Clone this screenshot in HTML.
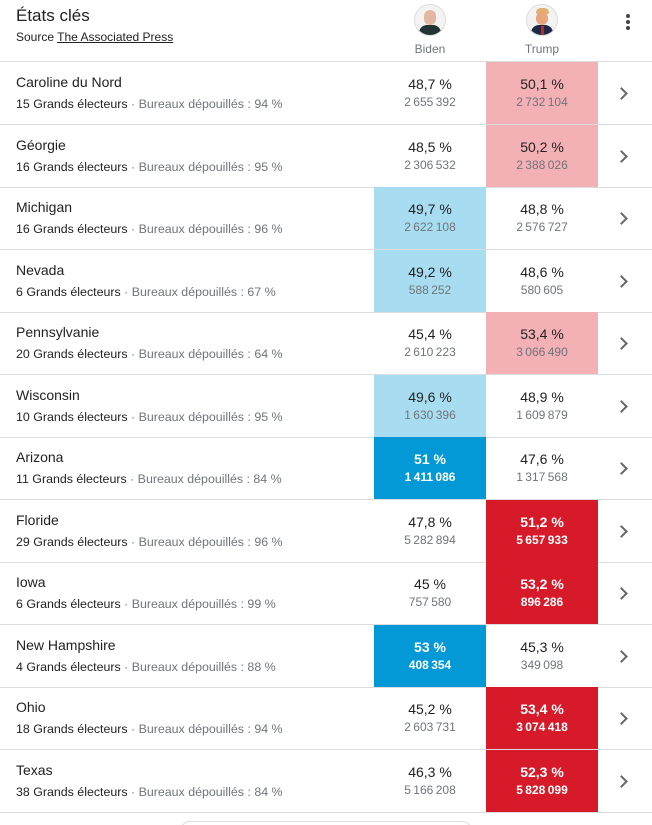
<!DOCTYPE html>
<html><head><meta charset="utf-8"><style>
html,body{margin:0;width:652px;height:825px;overflow:hidden}
body{background:#fff;font-family:"Liberation Sans",Arial,sans-serif;color:#222;position:relative}
.hdr{position:absolute;left:0;top:0;width:652px;height:61px;border-bottom:1px solid #dadce0}
.title{position:absolute;left:16px;top:6px;font-size:17px;color:#222}
.src{position:absolute;left:16px;top:30px;font-size:12px;color:#222}
.src u{text-decoration:underline}
.cand{position:absolute;top:4px;width:112px;text-align:center;font-size:12px;color:#70757a}
.av{width:30px;height:30px;border-radius:50%;margin:0 auto 6px;border:1px solid #ddd;overflow:hidden;background:#f3f3f3;position:relative}
.more{position:absolute;left:626px;top:14px;width:4px}
.more i{display:block;width:4px;height:4px;border-radius:2px;background:#444;margin-bottom:2px}
.row{position:absolute;left:0;width:652px;height:62px;border-bottom:1px solid #dadce0}
.name{position:absolute;left:16px;top:12px;font-size:14px;color:#222}
.sub{position:absolute;left:16px;top:35px;font-size:12.4px;color:#222}
.sub span{color:#70757a}
.cell{position:absolute;top:0;width:112px;height:62px;text-align:center}
.pct{font-size:14px;margin-top:14px;color:#222}
.vot{font-size:12px;color:#70757a;margin-top:3px}
.strong .pct,.strong .vot{color:#fff;font-weight:bold}
.chev{position:absolute;left:617px;top:27px;width:7px;height:7px;border-right:2px solid #666;border-top:2px solid #666;transform:rotate(45deg)}
.btn{position:absolute;left:180px;top:821px;width:290px;height:20px;border:1px solid #dadce0;border-radius:10px}
</style></head><body>
<div class="hdr">
<div class="title">États clés</div>
<div class="src">Source <u>The Associated Press</u></div>
<div class="cand" style="left:374px"><div class="av"><div style="position:absolute;left:9px;top:5px;width:12px;height:15px;border-radius:6px;background:#e2b9a0"></div><div style="position:absolute;left:4px;top:20px;width:22px;height:12px;border-radius:8px 8px 0 0;background:#233"></div></div>Biden</div>
<div class="cand" style="left:486px"><div class="av"><div style="position:absolute;left:9px;top:3px;width:13px;height:6px;border-radius:6px 6px 2px 2px;background:#e0b070"></div><div style="position:absolute;left:9px;top:7px;width:12px;height:13px;border-radius:6px;background:#e8a57e"></div><div style="position:absolute;left:4px;top:20px;width:22px;height:12px;border-radius:8px 8px 0 0;background:#1e2a44"></div><div style="position:absolute;left:14px;top:21px;width:3px;height:10px;background:#c22"></div></div>Trump</div>
<div class="more"><i></i><i></i><i></i></div>
</div>
<div id="rows"></div>
<div class="btn"></div>
<script>
const states=["Caroline du Nord","Géorgie","Michigan","Nevada","Pennsylvanie","Wisconsin","Arizona","Floride","Iowa","New Hampshire","Ohio","Texas"];
const electors=[15,16,16,6,20,10,11,29,6,4,18,38];
const counted=[94,95,96,67,64,95,84,96,99,88,94,84];
const bidenPct=["48,7","48,5","49,7","49,2","45,4","49,6","51","47,8","45","53","45,2","46,3"];
const bidenVotes=["2 655 392","2 306 532","2 622 108","588 252","2 610 223","1 630 396","1 411 086","5 282 894","757 580","408 354","2 603 731","5 166 208"];
const trumpPct=["50,1","50,2","48,8","48,6","53,4","48,9","47,6","51,2","53,2","45,3","53,4","52,3"];
const trumpVotes=["2 732 104","2 388 026","2 576 727","580 605","3 066 490","1 609 879","1 317 568","5 657 933","896 286","349 098","3 074 418","5 828 099"];
// status: 0 none, 1 leading, 2 called
const bidenStatus=[0,0,1,1,0,1,2,0,0,2,0,0];
const trumpStatus=[1,1,0,0,1,0,0,2,2,0,2,2];
const rowH=62.5, top0=62;
const bCol={0:"transparent",1:"#a8dcf1",2:"#0399d7"};
const tCol={0:"transparent",1:"#f3b0b5",2:"#d71a29"};
const wrap=document.getElementById('rows');
function mkCell(x,pct,v,st,cols,name){
  const c=document.createElement('div');
  c.className='cell'+(st===2?' strong':'');
  c.style.left=x+'px';c.style.background=cols[st];
  
  
  c.innerHTML='<div class="pct">'+pct+' %</div><div class="vot">'+v.replace(/ /g,'\u2009')+'</div>';
  return c;
}
states.forEach((s,i)=>{
  const r=document.createElement('div');
  r.className='row';
  r.style.top=(top0+i*rowH)+'px';
  
  
  r.innerHTML='<div class="name">'+s+'</div><div class="sub">'+electors[i]+' Grands électeurs <span>· Bureaux dépouillés : '+counted[i]+' %</span></div>';
  r.appendChild(mkCell(374,bidenPct[i],bidenVotes[i],bidenStatus[i],bCol,'biden-cell'));
  r.appendChild(mkCell(486,trumpPct[i],trumpVotes[i],trumpStatus[i],tCol,'trump-cell'));
  const ch=document.createElement('div');ch.className='chev';
  
  
  r.appendChild(ch);
  wrap.appendChild(r);
});
</script>
</body></html>
